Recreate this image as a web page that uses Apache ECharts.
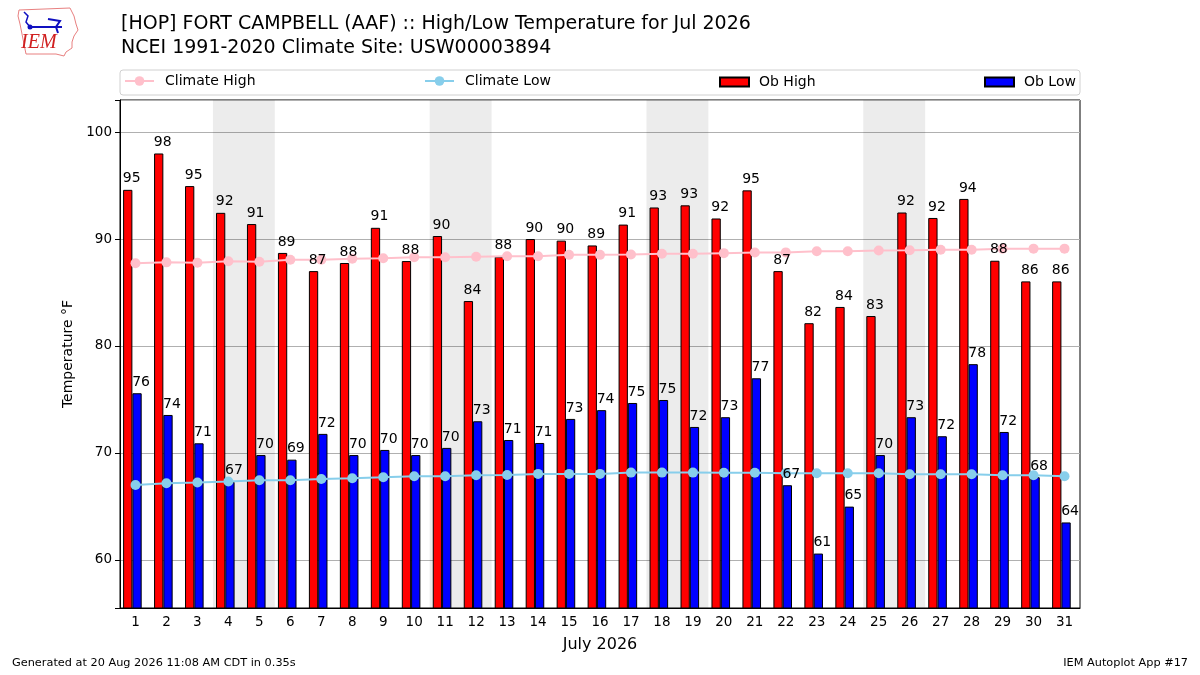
<!DOCTYPE html>
<html>
<head>
<meta charset="utf-8">
<script src="https://cdn.jsdelivr.net/npm/echarts@6/dist/echarts.min.js"></script>
<style>
html,body{margin:0;padding:0;background:#fff;}
#chart{width:1200px;height:675px;}
</style>
</head>
<body>
<div id="chart"></div>
<script>
// ---- data ----
const days = ['1','2','3','4','5','6','7','8','9','10','11','12','13','14','15','16','17','18','19','20','21','22','23','24','25','26','27','28','29','30','31'];
const obHigh = [94.6, 98.0, 94.95, 92.45, 91.4, 88.7, 87.0, 87.76, 91.05, 87.94, 90.28, 84.2, 88.35, 90.0, 89.85, 89.4, 91.35, 92.95, 93.15, 91.92, 94.55, 87.0, 82.13, 83.65, 82.8, 92.48, 91.97, 93.75, 87.97, 86.04, 86.04];
const obLow = [75.58, 73.55, 70.9, 67.3, 69.8, 69.37, 71.78, 69.8, 70.28, 69.8, 70.47, 72.96, 71.21, 70.93, 73.18, 74.0, 74.67, 74.95, 72.43, 73.34, 76.98, 66.98, 60.59, 64.98, 69.8, 73.34, 71.56, 78.3, 71.96, 67.73, 63.5];
const climHigh = [87.73, 87.82, 87.79, 87.92, 87.88, 88.07, 88.07, 88.16, 88.2, 88.29, 88.29, 88.34, 88.39, 88.39, 88.52, 88.52, 88.55, 88.62, 88.62, 88.68, 88.74, 88.75, 88.86, 88.86, 88.93, 88.95, 89.0, 89.0, 89.1, 89.1, 89.1];
const climLow = [67.0, 67.17, 67.23, 67.32, 67.45, 67.45, 67.57, 67.63, 67.72, 67.82, 67.82, 67.91, 67.94, 68.04, 68.04, 68.04, 68.16, 68.16, 68.16, 68.14, 68.14, 68.1, 68.1, 68.1, 68.1, 68.0, 68.0, 68.0, 67.91, 67.91, 67.82];
const weekendStarts = [4, 11, 18, 25];
const titleText = '[HOP] FORT CAMPBELL (AAF) :: High/Low Temperature for Jul 2026\nNCEI 1991-2020 Climate Site: USW00003894';
const xAxisName = 'July 2026';
const yAxisName = 'Temperature °F';
const footerLeft = 'Generated at 20 Aug 2026 11:08 AM CDT in 0.35s';
const footerRight = 'IEM Autoplot App #17';

const FONT = 'DejaVu Sans';
const chart = echarts.init(document.getElementById('chart'), null, {renderer: 'canvas'});

function labelFor(values) {
  return {
    show: true, position: 'top', distance: 4, offset: [4, 0],
    color: '#000', fontFamily: FONT, fontSize: 14,
    formatter: p => String(Math.round(values[p.dataIndex]))
  };
}

const legendCommon = {
  top: 74, itemHeight: 10, itemWidth: 29, padding: 0,
  textStyle: {fontFamily: FONT, fontSize: 14, color: '#000', padding: [0, 0, 0, 6]}
};

const option = {
  animation: false,
  backgroundColor: '#fff',
  title: {
    text: titleText, left: 116, top: 7,
    textStyle: {fontFamily: FONT, fontSize: 19, fontWeight: 'normal', color: '#000', lineHeight: 24}
  },
  legend: [
    Object.assign({}, legendCommon, {data: ['Climate High'], left: 124, itemHeight: 12}),
    Object.assign({}, legendCommon, {data: ['Climate Low'], left: 424, itemHeight: 12}),
    Object.assign({}, legendCommon, {data: [{name: 'Ob High', icon: 'rect'}], left: 719, itemHeight: 9, top: 75, textStyle: Object.assign({}, legendCommon.textStyle, {padding: [0,0,0,5]})}),
    Object.assign({}, legendCommon, {data: [{name: 'Ob Low', icon: 'rect'}], left: 984, itemHeight: 9, top: 75, textStyle: Object.assign({}, legendCommon.textStyle, {padding: [0,0,0,5]})})
  ],
  grid: {
    left: 120, right: 120, top: 100, bottom: 67,
    show: true, borderColor: '#000', borderWidth: 1, backgroundColor: 'transparent'
  },
  xAxis: [
    {
      type: 'category', data: days, boundaryGap: true,
      axisLine: {lineStyle: {color: '#000', width: 1}},
      axisTick: {alignWithLabel: true, length: 5, lineStyle: {color: '#000'}},
      axisLabel: {color: '#000', fontFamily: FONT, fontSize: 13.5, margin: 7, interval: 0},
      name: xAxisName, nameLocation: 'middle', nameGap: 29,
      nameTextStyle: {fontFamily: FONT, fontSize: 16, color: '#000'}
    },
    {
      type: 'value', min: 0.5, max: 31.5, show: false
    }
  ],
  yAxis: {
    type: 'value', min: 55.5, max: 103, splitNumber: 5,
    axisLine: {show: true, lineStyle: {color: '#000'}},
    axisTick: {show: true, length: 5, lineStyle: {color: '#000'}},
    axisLabel: {color: '#000', fontFamily: FONT, fontSize: 13.5, margin: 8,
      formatter: v => (Math.abs(v % 10) < 1e-6 ? String(v) : '')},
    splitLine: {show: true, lineStyle: {color: '#b0b0b0', width: 1}},
    name: yAxisName, nameLocation: 'middle', nameGap: 43,
    nameTextStyle: {fontFamily: FONT, fontSize: 14, color: '#000'}
  },
  graphic: [
    {type: 'rect', shape: {x: 120, y: 70, width: 960, height: 25, r: 3}, style: {fill: '#fff', stroke: '#d0d0d0', lineWidth: 1}, z: -1},
    {type: 'text', left: 12, top: 658, style: {text: footerLeft, font: '11.3px "DejaVu Sans"', fill: '#000'}},
    {type: 'text', right: 12, top: 658, style: {text: footerRight, font: '11.3px "DejaVu Sans"', fill: '#000'}},
    // IEM logo
    {type: 'polyline', shape: {points: [[19,10],[70,8],[72,12],[74,16],[76,24],[78,30],[74,36],[72,42],[72,48],[66,52],[64,56],[56,54],[26,54],[24,44],[22,34],[20,24],[18,16],[19,10]]}, style: {stroke: '#e88080', lineWidth: 1, fill: 'none'}},
    {type: 'text', left: 21, top: 33, style: {text: 'IEM', font: 'italic 20px "Liberation Serif"', fill: '#d02020'}},
    {type: 'polyline', shape: {points: [[30,27],[62,27]]}, style: {stroke: '#1010c0', lineWidth: 2}},
    {type: 'polyline', shape: {points: [[48,19],[60,21],[56,27],[58,33]]}, style: {stroke: '#1010c0', lineWidth: 2, fill: 'none'}},
    {type: 'polyline', shape: {points: [[24,12],[28,16],[26,22],[30,27]]}, style: {stroke: '#1010c0', lineWidth: 1.5, fill: 'none'}},
    {type: 'circle', shape: {cx: 30, cy: 27, r: 2.5}, style: {fill: '#1010c0'}}
  ],
  series: [
    {
      name: 'weekend', type: 'line', xAxisIndex: 1, data: [], silent: true, z: 1,
      markArea: {
        silent: true,
        itemStyle: {color: 'rgba(0,0,0,0.075)'},
        data: weekendStarts.map(d => [{xAxis: d - 0.5}, {xAxis: d + 1.5}])
      }
    },
    {
      name: 'Ob High', type: 'bar', xAxisIndex: 0, data: obHigh, stack: 'hi',
      barWidth: '30%', barGap: '0%',
      itemStyle: {color: '#ff0000', borderColor: '#000', borderWidth: 1}, z: 2
    },
    {
      name: 'hiLabel', type: 'bar', xAxisIndex: 0, data: obHigh.map(() => 0), stack: 'hi',
      barWidth: '30%', barGap: '0%', silent: true,
      itemStyle: {color: 'rgba(0,0,0,0)', borderWidth: 0},
      label: labelFor(obHigh), z: 6
    },
    {
      name: 'Ob Low', type: 'bar', xAxisIndex: 0, data: obLow, stack: 'lo',
      barWidth: '30%', barGap: '0%',
      itemStyle: {color: '#0000ff', borderColor: '#000', borderWidth: 1}, z: 2
    },
    {
      name: 'loLabel', type: 'bar', xAxisIndex: 0, data: obLow.map(() => 0), stack: 'lo',
      barWidth: '30%', barGap: '0%', silent: true,
      itemStyle: {color: 'rgba(0,0,0,0)', borderWidth: 0},
      label: labelFor(obLow), z: 6
    },
    {
      name: 'pad', type: 'bar', xAxisIndex: 0, data: days.map(() => null),
      barWidth: '20%', barGap: '0%', silent: true
    },
    {
      name: 'Climate High', type: 'line', xAxisIndex: 0, data: climHigh,
      symbol: 'circle', symbolSize: 10, z: 4,
      lineStyle: {color: '#ffc0cb', width: 2},
      itemStyle: {color: '#ffc0cb'}
    },
    {
      name: 'Climate Low', type: 'line', xAxisIndex: 0, data: climLow,
      symbol: 'circle', symbolSize: 10, z: 4,
      lineStyle: {color: '#87ceeb', width: 2},
      itemStyle: {color: '#87ceeb'}
    }
  ]
};
chart.setOption(option);
</script>
</body>
</html>
